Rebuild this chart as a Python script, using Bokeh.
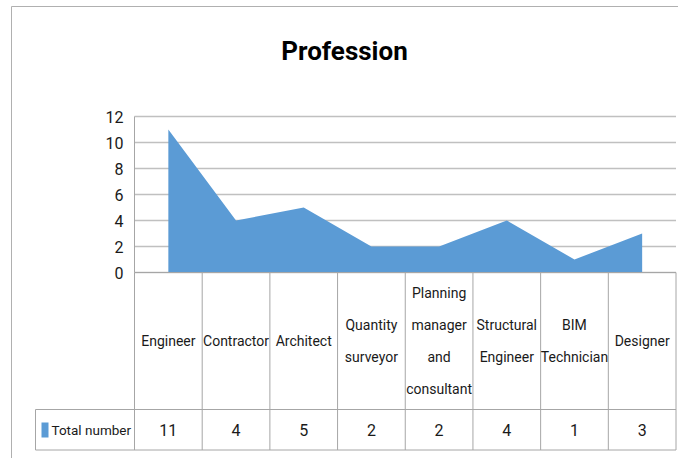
from bokeh.plotting import figure
from bokeh.models import Range1d
from bokeh.embed import file_html
from bokeh.resources import INLINE
from bokeh.core.properties import value

# ---- data ----
categories = ["Engineer", "Contractor", "Architect", "Quantity\nsurveyor",
              "Planning\nmanager\nand\nconsultant", "Structural\nEngineer",
              "BIM\nTechnician", "Designer"]
totals = [11, 4, 5, 2, 2, 4, 1, 3]
y_ticks = [0, 2, 4, 6, 8, 10, 12]
series_name = "Total number"
title_text = "Profession"

# ---- layout (page pixels) ----
W, H = 678, 458
OX, OY = 0, 0
PX0 = 134.0
N = len(categories)
COLW = (675.5 - PX0) / N
PY0 = 272.0
UNIT = 13.0
HEADER_BOTTOM = 409.0
TABLE_BOTTOM = 449.5
LEGEND_LEFT = 35.0

FONT = "Roboto"
TXT = "#1a1a1a"
BLUE = "#5b9bd5"
GRID = "#c0c0c0"
TBL = "#a6a6a6"


def X(px):
    return (px - PX0) / COLW


def Y(py):
    return (PY0 - py) / UNIT


p = figure(width=W, height=H, output_backend="svg", toolbar_location=None,
           x_range=Range1d(X(OX), X(OX + W)), y_range=Range1d(Y(OY + H), Y(OY)),
           min_border=0, outline_line_color=None)
p.axis.visible = False
p.grid.visible = False
p.background_fill_color = "white"
p.border_fill_color = "white"

centers = [i + 0.5 for i in range(N)]

# gridlines
p.segment(x0=[0] * len(y_ticks), x1=[N] * len(y_ticks), y0=y_ticks, y1=y_ticks,
          line_color=GRID, line_width=1.6)
# left axis line
p.segment(x0=[0], x1=[0], y0=[0], y1=[max(y_ticks)], line_color=TBL, line_width=1)

# area
p.varea(x=centers, y1=[0] * N, y2=totals, fill_color=BLUE)

# y tick labels
p.text(x=[X(123)] * len(y_ticks), y=y_ticks, text=[str(t) for t in y_ticks],
       text_align="right", text_baseline="middle", text_font=value(FONT),
       text_font_size="16px", text_color=TXT)

# data table lines
hb, tb, ll = Y(HEADER_BOTTOM), Y(TABLE_BOTTOM), X(LEGEND_LEFT)
p.segment(x0=list(range(N + 1)), x1=list(range(N + 1)),
          y0=[0] * (N + 1), y1=[tb] * (N + 1), line_color=TBL, line_width=1)
p.segment(x0=[0, ll, ll, ll], x1=[N, N, N, ll], y0=[0, hb, tb, hb], y1=[0, hb, tb, tb],
          line_color=TBL, line_width=1)

# category labels
p.text(x=centers, y=[(0 + hb) / 2] * N, text=categories, text_align="center",
       text_baseline="middle", text_font=value(FONT), text_font_size="14px",
       text_line_height=2.0, text_color=TXT)

# values
mid = (hb + tb) / 2
p.text(x=centers, y=[mid] * N, text=[str(v) for v in totals], text_align="center",
       text_baseline="middle", text_font=value(FONT), text_font_size="16px",
       text_color=TXT)

# legend key + series name
p.quad(left=[X(41)], right=[X(48)], bottom=[Y(437)], top=[Y(422)],
       fill_color=BLUE, line_color=None)
p.text(x=[X(51)], y=[mid], text=[series_name], text_align="left",
       text_baseline="middle", text_font=value(FONT), text_font_size="13.5px",
       text_color=TXT)

# title
p.text(x=[X(344)], y=[Y(50)], text=[title_text], text_align="center",
       text_baseline="middle", text_font=value(FONT), text_font_size="26px",
       text_font_style="bold", text_color="#000000")

# chart border (top and left)
p.segment(x0=[X(11), X(11)], x1=[X(OX + W), X(11)], y0=[Y(6), Y(6)],
          y1=[Y(6), Y(OY + H)], line_color="#b0b0b0", line_width=1)

open("out.html", "w").write(file_html(p, INLINE))
